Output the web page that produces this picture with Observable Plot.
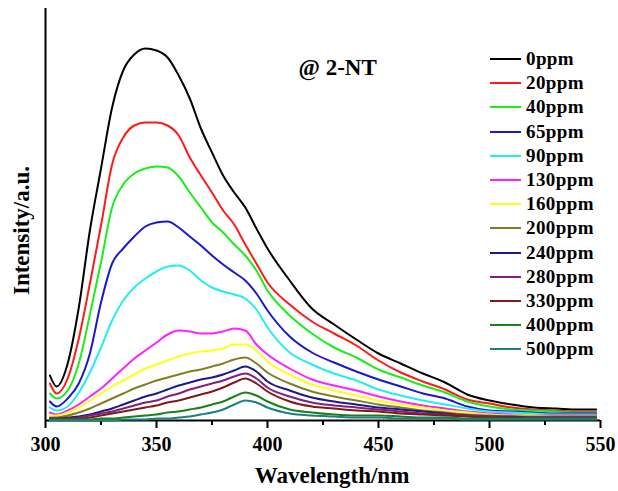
<!DOCTYPE html>
<html><head><meta charset="utf-8">
<script src="https://cdn.jsdelivr.net/npm/d3@7"></script>
<script src="https://cdn.jsdelivr.net/npm/@observablehq/plot@0.6"></script>
<style>
body{margin:0;background:#fff;}
#wrap{position:relative;width:618px;height:491px;}
#legend{position:absolute;left:490px;top:47px;font-family:"Liberation Serif",serif;font-weight:bold;font-size:19px;color:#000;}
.row{height:24.2px;display:flex;align-items:center;white-space:nowrap;letter-spacing:0.4px;}
.sw{width:31px;height:2px;margin-right:5px;}
</style></head><body><div id="wrap"></div>
<script>
const wavelengths = [302,305,310,315,320,325,330,335,340,345,350,355,360,365,370,375,380,385,390,395,400,410,420,430,440,450,460,470,480,490,500,510,520,530,540,548];
const labels = ["0ppm","20ppm","40ppm","65ppm","90ppm","130ppm","160ppm","200ppm","240ppm","280ppm","330ppm","400ppm","500ppm"];
const colors = ["#000000","#ff1a1a","#1aee1a","#1a1acc","#22eeee","#ff22ff","#ffff1a","#808020","#1a1a8a","#802080","#801a1a","#1a801a","#1a8080"];
const s0   = [45,34,57,113,190,252,313,350,366,372,370,363,345,322,292,268,245,228,213,192,172,140,112,96,81,67,57,47,38,26,20,16,13,12,11,11];
const s20  = [37,27,42,82,137,195,256,283,295,298,298,295,285,263,245,228,210,196,176,157,138,116,99,87,75,60,48,39,31,21,17,13,11,10,9,9];
const s40  = [27,22,30,57,106,158,213,236,247,252,254,253,244,228,213,198,188,176,165,150,130,105,87,73,63,51,43,35,28,19,14,11,10,9,8,8];
const s65  = [19,14,22,37,67,118,157,172,184,194,198,199,193,184,175,165,156,148,140,127,110,84,68,58,49,41,34,27,22,14,10,9,8,7,7,7];
const s90  = [13,10,14,28,48,73,100,120,133,142,149,154,155,150,140,133,129,126,122,111,93,68,56,47,40,31,25,20,16,12,9,8,7,6,6,6];
const s130 = [8,6,10,16,24,32,42,52,62,70,78,86,90,89,87,87,89,92,90,76,66,52,41,35,30,24,19,15,12,9,7,6,5,5,5,5];
const s160 = [5,5,8,13,20,27,34,40,46,52,56,60,64,67,69,70,72,76,76,70,59,46,36,30,25,20,16,13,10,8,6,5,5,4,4,4];
const s200 = [3,3,5,8,12,17,22,27,32,36,40,43,46,49,51,54,57,61,63,57,48,37,29,24,20,16,13,10,8,6,5,4,4,4,4,4];
const s240 = [2,2,3,4,6,9,12,16,20,24,27,31,35,38,41,43,46,50,54,49,39,30,23,19,16,13,11,9,7,5,4,4,3,3,3,3];
const s280 = [2,2,2,3,5,7,9,12,15,18,20,24,27,31,34,37,40,44,47,42,33,24,18,15,13,11,9,7,6,5,4,3,3,3,3,3];
const s330 = [1,1,2,2,3,5,7,9,11,13,15,18,20,23,26,29,33,38,42,37,29,19,14,12,10,9,7,6,5,4,3,3,2,2,2,2];
const s400 = [1,1,1,1,1,2,2,3,4,5,6,8,9,11,13,16,19,24,28,25,19,11,8,6,5,5,4,3,3,2,2,2,2,2,2,2];
const s500 = [0,0,0,0,0,0,0,1,1,1,2,2,3,4,6,8,11,16,20,18,13,7,5,4,3,3,2,2,2,1,1,1,1,1,1,1];
const majorTicks = [300,350,400,450,500,550];
const minorTicks = [325,375,425,475,525];
const xLabel = "Wavelength/nm";
const yLabel = "Intensity/a.u.";
const note = "@ 2-NT";

const seriesValues = [s0,s20,s40,s65,s90,s130,s160,s200,s240,s280,s330,s400,s500];
const rows = [];
seriesValues.forEach((vals, i) => vals.forEach((v, j) => rows.push({series: labels[i], wl: wavelengths[j], v})));

const F = "Liberation Serif, Times New Roman, serif";
const chart = Plot.plot({
  width: 618, height: 491,
  marginLeft: 45, marginRight: 18, marginTop: 8, marginBottom: 71,
  x: {domain: [300, 550], axis: null},
  y: {domain: [0, 412], axis: null},
  color: {domain: labels, range: colors},
  marks: [
    Plot.axisX({ticks: majorTicks, tickSize: 8, tickPadding: 8, fontSize: 20, fontWeight: "bold", fontFamily: F, strokeWidth: 2, label: null, tickFormat: d => String(d), color: "#000"}),
    Plot.axisX({ticks: minorTicks, tickSize: 5, strokeWidth: 2, label: null, tickFormat: () => "", color: "#000"}),
    Plot.ruleY([0], {stroke: "#000", strokeWidth: 2}),
    Plot.ruleX([300], {stroke: "#000", strokeWidth: 2}),
    Plot.line(rows, {x: "wl", y: "v", z: "series", stroke: "series", strokeWidth: 2, curve: "monotone-x"}),
    Plot.text([note], {frameAnchor: "top-left", dx: 253, dy: 59, textAnchor: "start", lineAnchor: "middle", fontSize: 23, fontWeight: "bold", fontFamily: F, fill: "#000"}),
    Plot.text([yLabel], {frameAnchor: "left", dx: -24, dy: 16, rotate: -90, textAnchor: "middle", lineAnchor: "middle", fontSize: 23, fontWeight: "bold", fontFamily: F, fill: "#000"}),
    Plot.text([xLabel], {frameAnchor: "bottom", dx: 9, dy: 55, textAnchor: "middle", lineAnchor: "middle", fontSize: 23, fontWeight: "bold", fontFamily: F, fill: "#000"})
  ]
});
const wrap = document.getElementById("wrap");
wrap.appendChild(chart);
const legend = document.createElement("div");
legend.id = "legend";
labels.forEach((l, i) => {
  const r = document.createElement("div");
  r.className = "row";
  const sw = document.createElement("div");
  sw.className = "sw";
  sw.style.background = colors[i];
  r.appendChild(sw);
  r.appendChild(document.createTextNode(l));
  legend.appendChild(r);
});
wrap.appendChild(legend);
</script></body></html>
